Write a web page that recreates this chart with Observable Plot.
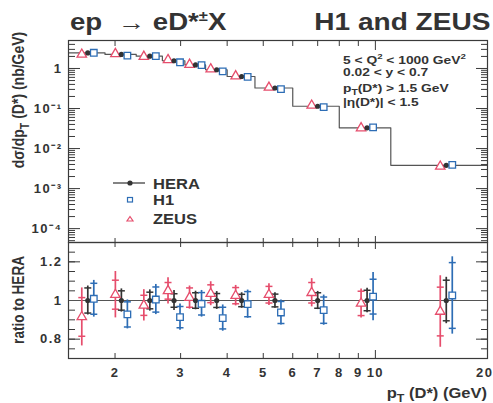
<!DOCTYPE html>
<html><head><meta charset="utf-8">
<script src="https://cdn.jsdelivr.net/npm/d3@7"></script>
<script src="https://cdn.jsdelivr.net/npm/@observablehq/plot@0.6"></script>
<style>
body{margin:0;background:#fff;}
#chart{position:relative;width:493px;height:403px;overflow:hidden;background:#fff;font-family:"Liberation Sans",Arial,sans-serif;font-weight:bold;color:#333;}
.abs{position:absolute;white-space:nowrap;line-height:1;}
#chart svg.plot{position:absolute;left:0;overflow:visible;}
sub,sup{line-height:0;}
</style></head><body><div id="chart"></div>
<script>
// ---- data ----
const binEdges   = [1.5, 1.88, 2.28, 2.68, 3.08, 3.5, 4.0, 4.75, 6.0, 8.0, 11.0, 20.0];
const ptCenters  = [1.69, 2.08, 2.48, 2.88, 3.29, 3.75, 4.375, 5.375, 7.0, 9.5, 15.5];
const heraXsec   = [2.45, 2.25, 2.03, 1.56, 1.23, 0.93, 0.63, 0.325, 0.114, 0.033, 0.0038];
const h1Xsec     = [2.47, 2.09, 2.04, 1.43, 1.21, 0.845, 0.618, 0.305, 0.108, 0.0337, 0.0039];
const zeusXsec   = [2.24, 2.32, 1.98, 1.64, 1.25, 0.963, 0.646, 0.335, 0.119, 0.0325, 0.00358];

const heraRatio  = [1, 1, 1, 1, 1, 1, 1, 1, 1, 1, 1];
const heraStat   = [0.065, 0.05, 0.043, 0.035, 0.04, 0.036, 0.032, 0.033, 0.04, 0.053, 0.105];
const heraTot    = [0.075, 0.06, 0.055, 0.052, 0.048, 0.046, 0.04, 0.04, 0.047, 0.064, 0.12];
const h1Ratio    = [1.009, 0.928, 1.005, 0.914, 0.983, 0.909, 0.981, 0.938, 0.95, 1.02, 1.026];
const h1Stat     = [0.08, 0.065, 0.065, 0.055, 0.058, 0.056, 0.065, 0.057, 0.068, 0.09, 0.17];
const h1Tot      = [0.095, 0.075, 0.078, 0.068, 0.069, 0.068, 0.073, 0.065, 0.078, 0.125, 0.2];
const zeusRatio  = [0.915, 1.03, 0.975, 1.05, 1.015, 1.035, 1.025, 1.03, 1.04, 0.985, 0.943];
const zeusStat   = [0.10, 0.075, 0.052, 0.043, 0.05, 0.046, 0.042, 0.043, 0.053, 0.063, 0.126];
const zeusTot    = [0.15, 0.12, 0.081, 0.068, 0.06, 0.062, 0.053, 0.056, 0.073, 0.075, 0.185];

const yTicksTop       = [1e-4, 1e-3, 1e-2, 1e-1, 1];
const yTickLabelsTop  = ["10\u207B\u2074", "10\u207B\u00B3", "10\u207B\u00B2", "10\u207B\u00B9", "1"];
const yTicksRatio     = [0.8, 1, 1.2];
const yTickLabelsRatio= ["0.8", "1", "1.2"];
const xTicks          = [2, 3, 4, 5, 6, 7, 8, 9, 10, 20];
const xTickLabels     = ["2", "3", "4", "5", "6", "7", "8", "9", "10", "20"];
const xMinorTicks     = [2, 3, 4, 5, 6, 7, 8, 9];
const xMajorTicks     = [10];

// minor tick positions (axis structure)
const yMinorTop = [];
for (let e = -5; e <= 0; e++) for (let m = 2; m <= 9; m++) {
  const v = m * Math.pow(10, e);
  if (v > 4.5e-5 && v < 5) yMinorTop.push(v);
}
const yMinorRatio = [];
for (let k = 0; k <= 12; k++) yMinorRatio.push(+(0.7 + 0.05 * k).toFixed(2));

function labeler(ticks, labels) {
  return d => {
    let best = 0, bd = Infinity;
    ticks.forEach((t, i) => { const dd = Math.abs(Math.log(t) - Math.log(d)); if (dd < bd) { bd = dd; best = i; } });
    return labels[best];
  };
}

// ---- tables ----
const topRows = ptCenters.map((pt, i) => ({pt, hera: heraXsec[i], h1: h1Xsec[i], zeus: zeusXsec[i]}));
const stepRows = binEdges.map((e, i) => ({pt: e, v: heraXsec[Math.min(i, heraXsec.length - 1)]}));
const ratioRows = ptCenters.map((pt, i) => ({
  pt,
  hera: heraRatio[i], heraStat: heraStat[i], heraTot: heraTot[i],
  h1: h1Ratio[i], h1Stat: h1Stat[i], h1Tot: h1Tot[i],
  zeus: zeusRatio[i], zeusStat: zeusStat[i], zeusTot: zeusTot[i]
}));
const xLabelRows = xTicks.map((v, i) => ({v, label: xTickLabels[i], last: i === xTicks.length - 1}));

const RED = "#e64d6c", BLUE = "#2d6db5", DARK = "#333333";
const series = [
  {key: "zeus", color: RED, symbol: "triangle", dx: -6, fill: "white", r: 3.5},
  {key: "hera", color: DARK, symbol: "circle", dx: 0, fill: DARK, r: 2.6},
  {key: "h1", color: BLUE, symbol: "square", dx: 6, fill: "white", r: 3.7}
];
const hbar = {draw(ctx) { ctx.moveTo(-3.5, 0); ctx.lineTo(3.5, 0); }};

const FRAME = "#3a3a3a";
function yTickSet(vals, size) {
  const o = {fill: "none", label: null, stroke: FRAME, strokeWidth: 1};
  return [
    Plot.axisY(vals, {...o, anchor: "left", tickSize: size, dx: size}),
    Plot.axisY(vals, {...o, anchor: "right", tickSize: size, dx: -size})
  ];
}
function xTickSet(vals, topSize, botSize) {
  const o = {fill: "none", label: null, stroke: FRAME, strokeWidth: 1};
  return [
    Plot.axisX(vals, {...o, anchor: "top", tickSize: topSize, dy: topSize}),
    Plot.axisX(vals, {...o, anchor: "bottom", tickSize: botSize, dy: -botSize})
  ];
}
const textOpts = {fontSize: 13, fontWeight: "bold", fontFamily: "Liberation Sans, Arial, sans-serif", fill: DARK};

// ---- top panel ----
const topPlot = Plot.plot({
  width: 493, height: 242,
  marginTop: 40, marginBottom: 0, marginLeft: 68, marginRight: 6,
  x: {type: "log", domain: [1.5, 20]},
  y: {type: "log", domain: [4.5e-5, 5]},
  style: {background: "transparent", letterSpacing: "1.5px", overflow: "visible"},
  marks: [
    ...yTickSet(yMinorTop, 7),
    ...yTickSet(yTicksTop, 12),
    ...xTickSet(xMinorTicks, 5, 4),
    ...xTickSet(xMajorTicks, 9, 6),
    Plot.axisY(yTicksTop, {anchor: "left", tickSize: 0, tickPadding: 6, label: null,
      tickFormat: labeler(yTicksTop, yTickLabelsTop), ...textOpts}),
    Plot.line(stepRows, {x: "pt", y: "v", curve: "step-after", stroke: "#555", strokeWidth: 1.2}),
    ...series.map(s => Plot.dot(topRows, {x: "pt", y: s.key, dx: s.dx, symbol: s.symbol, r: s.r,
      stroke: s.key === "hera" ? "none" : s.color, fill: s.fill, strokeWidth: 1.3})),
    Plot.frame({stroke: FRAME, strokeWidth: 1.2})
  ]
});
topPlot.classList.add("plot");
topPlot.style.top = "0px";

// ---- ratio panel ----
const ratioMarks = [];
for (const s of series) {
  ratioMarks.push(Plot.ruleX(ratioRows, {x: "pt", dx: s.dx,
    y1: d => d[s.key] - d[s.key + "Tot"], y2: d => d[s.key] + d[s.key + "Tot"],
    stroke: s.color, strokeWidth: 1.7}));
  ratioMarks.push(Plot.dot(ratioRows, {x: "pt", dx: s.dx, y: d => d[s.key] - d[s.key + "Stat"],
    symbol: hbar, stroke: s.color, strokeWidth: 1.5, fill: "none"}));
  ratioMarks.push(Plot.dot(ratioRows, {x: "pt", dx: s.dx, y: d => d[s.key] + d[s.key + "Stat"],
    symbol: hbar, stroke: s.color, strokeWidth: 1.5, fill: "none"}));
}
for (const s of series) {
  ratioMarks.push(Plot.dot(ratioRows, {x: "pt", y: s.key, dx: s.dx, symbol: s.symbol, r: s.r,
    stroke: s.key === "hera" ? "none" : s.color, fill: s.fill, strokeWidth: 1.3}));
}
const ratioPlot = Plot.plot({
  width: 493, height: 161,
  marginTop: 0, marginBottom: 45, marginLeft: 68, marginRight: 6,
  x: {type: "log", domain: [1.5, 20]},
  y: {domain: [0.7, 1.3]},
  style: {background: "transparent", letterSpacing: "1.5px", overflow: "visible"},
  marks: [
    ...yTickSet(yMinorRatio, 7),
    ...yTickSet(yTicksRatio, 12),
    ...xTickSet(xMinorTicks, 4, 5),
    ...xTickSet(xMajorTicks, 6, 8),
    Plot.axisY(yTicksRatio, {anchor: "left", tickSize: 0, tickPadding: 6, label: null,
      tickFormat: labeler(yTicksRatio, yTickLabelsRatio), ...textOpts}),
    Plot.text(xLabelRows.filter(d => !d.last), {x: "v", text: "label", frameAnchor: "bottom",
      lineAnchor: "top", dy: 9, ...textOpts}),
    Plot.text(xLabelRows.filter(d => d.last), {x: "v", text: "label", frameAnchor: "bottom",
      lineAnchor: "top", dy: 9, dx: 6, textAnchor: "end", ...textOpts}),
    Plot.ruleY([1], {stroke: "#555", strokeWidth: 1}),
    ...ratioMarks,
    Plot.frame({stroke: FRAME, strokeWidth: 1.2})
  ]
});
ratioPlot.classList.add("plot");
ratioPlot.style.top = "242px";

const chart = document.getElementById("chart");
chart.appendChild(topPlot);
chart.appendChild(ratioPlot);

// ---- texts ----
function addText(html, css) {
  const d = document.createElement("div");
  d.className = "abs";
  d.innerHTML = html;
  d.setAttribute("style", css);
  chart.appendChild(d);
  return d;
}
addText("ep&nbsp; \u2192 eD*<sup style='font-size:0.6em'>\u00B1</sup>X",
  "left:70px;top:11px;font-size:23px;transform:scaleX(1.2);transform-origin:left top;");
addText("H1 and ZEUS",
  "right:3px;top:11px;font-size:23px;transform:scaleX(1.22);transform-origin:right top;");
const ann = "font-size:11.5px;left:343px;transform:scaleX(1.2);transform-origin:left top;";
addText("5 &lt; Q<sup style='font-size:0.7em'>2</sup> &lt; 1000 GeV<sup style='font-size:0.7em'>2</sup>", ann + "top:55px;");
addText("0.02 &lt; y &lt; 0.7", ann + "top:67px;");
addText("p<sub style='font-size:0.75em'>T</sub>(D*) &gt; 1.5 GeV", ann + "top:83px;");
addText("|\u03B7(D*)| &lt; 1.5", ann + "top:97px;");

// legend
const leg = "font-size:14px;left:153px;transform:scaleX(1.18);transform-origin:left top;";
addText("HERA", leg + "top:177px;");
addText("H1", leg + "top:193px;");
addText("ZEUS", leg + "top:212px;");
const ns = "http://www.w3.org/2000/svg";
const lsvg = document.createElementNS(ns, "svg");
lsvg.setAttribute("width", 493); lsvg.setAttribute("height", 403);
lsvg.setAttribute("style", "position:absolute;left:0;top:0;pointer-events:none;");
lsvg.innerHTML =
  `<line x1="113" x2="145" y1="183" y2="183" stroke="${DARK}" stroke-width="1.2"/>` +
  `<circle cx="130" cy="183" r="2.6" fill="${DARK}"/>` +
  `<rect x="127.5" y="197.5" width="5" height="4.5" fill="white" stroke="${BLUE}" stroke-width="1.2"/>` +
  `<path d="M130,216.5 L133,221 L127,221 Z" fill="white" stroke="${RED}" stroke-width="1.2"/>`;
chart.appendChild(lsvg);

// axis titles
addText("d\u03C3/dp<sub style='font-size:0.75em'>T</sub> (D*) (nb/GeV)",
  "font-size:14px;left:18px;top:100px;transform:translate(-50%,-50%) rotate(-90deg) scaleY(1.2);");
addText("ratio to HERA",
  "font-size:13.5px;left:19px;top:300px;transform:translate(-50%,-50%) rotate(-90deg) scaleY(1.2);");
addText("p<sub style='font-size:0.75em'>T</sub> (D*) (GeV)",
  "font-size:14px;right:6px;top:386px;transform:scaleX(1.18);transform-origin:right top;");
</script></body></html>
